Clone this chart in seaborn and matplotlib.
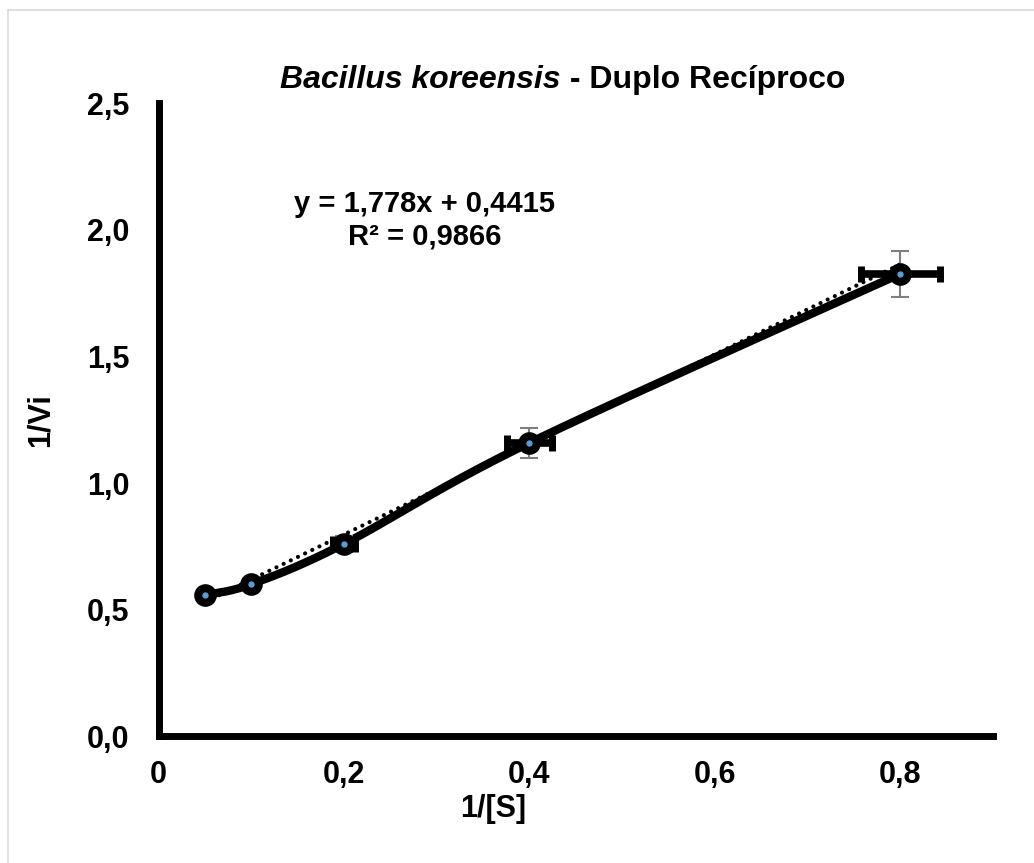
import numpy as np
import pandas as pd
import matplotlib
matplotlib.use("Agg")
import matplotlib.pyplot as plt
from matplotlib.ticker import FixedLocator, FixedFormatter
from matplotlib.lines import Line2D
import seaborn as sns

# ---- data ----
inv_s = [0.05, 0.1, 0.2, 0.4, 0.8]
inv_v = [0.558, 0.601, 0.760, 1.159, 1.826]
x_err = [0.004, 0.004, 0.012, 0.024, 0.043]
y_err = [0.02, 0.02, 0.03, 0.058, 0.09]
slope = 1.778
intercept = 0.4415
equation_text = "y = 1,778x + 0,4415\nR² = 0,9866"
x_ticks = [0, 0.2, 0.4, 0.6, 0.8]
x_tick_labels = ["0", "0,2", "0,4", "0,6", "0,8"]
y_ticks = [0, 0.5, 1.0, 1.5, 2.0, 2.5]
y_tick_labels = ["0,0", "0,5", "1,0", "1,5", "2,0", "2,5"]
title_italic = "Bacillus koreensis"
title_rest = " - Duplo Recíproco"
x_label = "1/[S]"
y_label = "1/Vi"

sns.set_theme(style="white")
plt.rcParams["font.family"] = ["Liberation Sans", "DejaVu Sans"]
plt.rcParams["font.weight"] = "bold"
plt.rcParams["text.color"] = "black"

fig = plt.figure(figsize=(10.34, 8.63), dpi=100)
ax = fig.add_axes([0.1533, 0.1466, 0.8072, 0.7340])

# smooth (Catmull-Rom style) curve through the data, like Excel's smoothed line
def smooth(xs, ys, n=40):
    P = np.column_stack([xs, ys])
    P = np.vstack([P[0], P, P[-1]])
    out = []
    for i in range(1, len(P) - 2):
        p0, p1, p2, p3 = P[i - 1], P[i], P[i + 1], P[i + 2]
        c1 = p1 + (p2 - p0) / 6.0
        c2 = p2 - (p3 - p1) / 6.0
        t = np.linspace(0, 1, n)[:, None]
        b = ((1 - t) ** 3) * p1 + 3 * ((1 - t) ** 2) * t * c1 + 3 * (1 - t) * t ** 2 * c2 + t ** 3 * p2
        out.append(b if i == 1 else b[1:])
    return np.vstack(out)

curve = smooth(np.array(inv_s), np.array(inv_v))
curve_df = pd.DataFrame({"x": curve[:, 0], "y": curve[:, 1]})

# trendline (round dots)
tx = np.array([inv_s[0], inv_s[-1]])
trend_df = pd.DataFrame({"x": tx, "y": slope * tx + intercept})
sns.lineplot(data=trend_df, x="x", y="y", ax=ax, color="black", lw=3.0,
             linestyle=(0, (0.01, 1.9)), dash_capstyle="round", zorder=2)

sns.lineplot(data=curve_df, x="x", y="y", ax=ax, color="black", lw=6.0,
             sort=False, estimator=None, zorder=3, solid_capstyle="round")

# y error bars (thin grey)
ax.errorbar(inv_s, inv_v, yerr=y_err, fmt="none", ecolor="#7f7f7f",
            elinewidth=1.5, capsize=6.5, capthick=1.5, zorder=4)
# x error bars (thick black)
ax.errorbar(inv_s, inv_v, xerr=x_err, fmt="none", ecolor="black",
            elinewidth=5.5, capsize=6, capthick=5, zorder=4)

# markers
ax.plot(inv_s, inv_v, linestyle="none", marker="o", markersize=10.5,
        markerfacecolor="#5B9BD5", markeredgecolor="black",
        markeredgewidth=5.8, zorder=5)

ax.set_xlim(0, 0.9)
ax.set_ylim(0, 2.5)
ax.xaxis.set_major_locator(FixedLocator(x_ticks))
ax.xaxis.set_major_formatter(FixedFormatter(x_tick_labels))
ax.yaxis.set_major_locator(FixedLocator(y_ticks))
ax.yaxis.set_major_formatter(FixedFormatter(y_tick_labels))
ax.tick_params(axis="both", length=0, labelsize=22, colors="black")
ax.tick_params(axis="x", pad=17)
ax.tick_params(axis="y", pad=21)
for lab in ax.get_xticklabels() + ax.get_yticklabels():
    lab.set_fontweight("bold")
ax.set_xlabel("")
ax.set_ylabel("")

for s in ["top", "right"]:
    ax.spines[s].set_visible(False)
for s in ["left", "bottom"]:
    ax.spines[s].set_linewidth(5)
    ax.spines[s].set_color("black")
ax.grid(False)

# axis titles
fig.text(493 / 1034, 1 - 809 / 863, x_label, ha="center", va="center",
         fontsize=22, fontweight="bold")
fig.text(41 / 1034, 1 - 420 / 863, y_label, ha="center", va="center",
         fontsize=22, fontweight="bold", rotation=90)

# title
fig.text(561 / 1034, 1 - 80 / 863, title_italic, ha="right", va="center",
         fontsize=23, fontweight="bold", style="italic")
fig.text(561 / 1034, 1 - 80 / 863, title_rest, ha="left", va="center",
         fontsize=23, fontweight="bold")

# equation
fig.text(425 / 1034, 1 - 220 / 863, equation_text, ha="center", va="center",
         fontsize=21, fontweight="bold", linespacing=1.2)

# chart-area border (light grey), top and left visible
fig.add_artist(Line2D([7.5 / 1034, 7.5 / 1034], [0, 1 - 10.5 / 863],
                      transform=fig.transFigure, color="#d9d9d9", lw=1.2))
fig.add_artist(Line2D([7.5 / 1034, 1], [1 - 10.5 / 863, 1 - 10.5 / 863],
                      transform=fig.transFigure, color="#d9d9d9", lw=1.2))

fig.savefig("out.png", dpi=100, facecolor="white")
